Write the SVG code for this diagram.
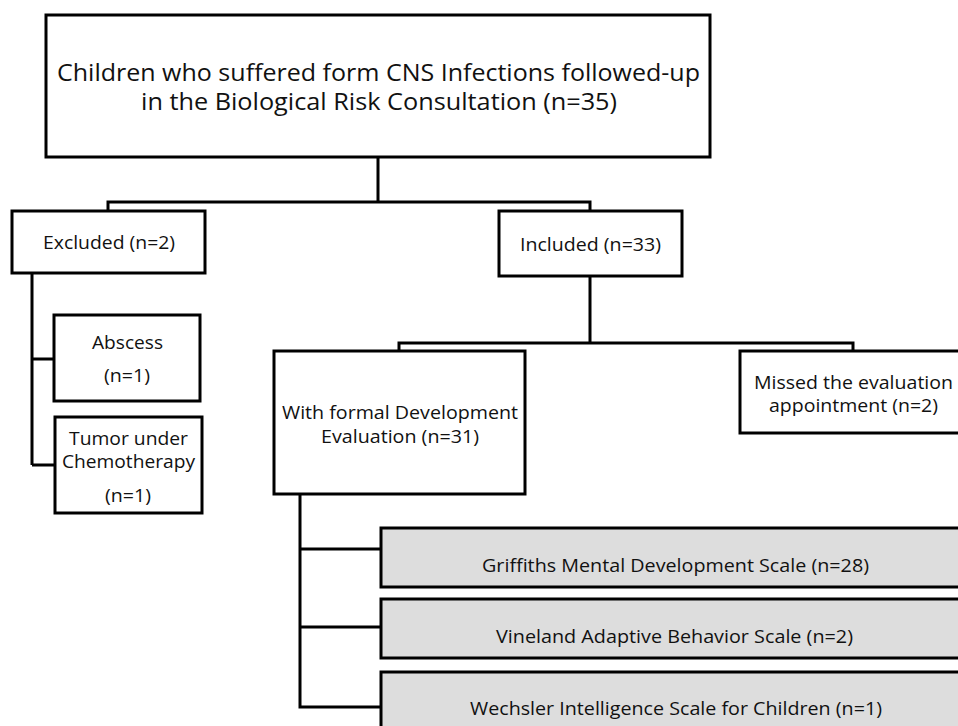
<svg xmlns="http://www.w3.org/2000/svg" width="958" height="726" viewBox="0 0 958 726">
<style>
.box{fill:#fff;stroke:#000;stroke-width:3}
.gray{fill:#dddddd;stroke:#000;stroke-width:3}
.conn{fill:none;stroke:#000;stroke-width:3}
text{font-family:"Open Sans","Noto Sans","Liberation Sans",sans-serif;fill:#111;text-anchor:middle}
.t{font-size:24px}
.s{font-size:19px}
</style>
<rect width="958" height="726" fill="#fff"/>
<g id="connectors">
<path class="conn" d="M378 157V202M108 211V202H590V211"/>
<path class="conn" d="M32 273V465M32 359H54M32 465H55"/>
<path class="conn" d="M590 276V343M399 351V343H853V351"/>
<path class="conn" d="M300 494V707H381M300 549H381M300 627H381"/>
</g>
<g id="root">
<rect class="box" x="46" y="15" width="664" height="142"/>
<text class="t" x="378.5" y="81" textLength="643" lengthAdjust="spacingAndGlyphs">Children who suffered form CNS Infections followed-up</text>
<text class="t" x="379" y="110" textLength="476" lengthAdjust="spacingAndGlyphs">in the Biological Risk Consultation (n=35)</text>
</g>
<g id="excluded">
<rect class="box" x="12" y="211" width="193" height="62"/>
<text class="s" x="109" y="249" textLength="132" lengthAdjust="spacingAndGlyphs">Excluded (n=2)</text>
</g>
<g id="included">
<rect class="box" x="499" y="211" width="183" height="65"/>
<text class="s" x="590.5" y="251" textLength="141" lengthAdjust="spacingAndGlyphs">Included (n=33)</text>
</g>
<g id="abscess">
<rect class="box" x="54" y="315" width="146" height="86"/>
<text class="s" x="127.5" y="349" textLength="71" lengthAdjust="spacingAndGlyphs">Abscess</text>
<text class="s" x="127" y="382" textLength="46" lengthAdjust="spacingAndGlyphs">(n=1)</text>
</g>
<g id="tumor">
<rect class="box" x="55" y="417" width="147" height="96"/>
<text class="s" x="128.5" y="445" textLength="119" lengthAdjust="spacingAndGlyphs">Tumor under</text>
<text class="s" x="128.5" y="468" textLength="133" lengthAdjust="spacingAndGlyphs">Chemotherapy</text>
<text class="s" x="128" y="502" textLength="46" lengthAdjust="spacingAndGlyphs">(n=1)</text>
</g>
<g id="formal">
<rect class="box" x="274" y="351" width="251" height="143"/>
<text class="s" x="400" y="419" textLength="236" lengthAdjust="spacingAndGlyphs">With formal Development</text>
<text class="s" x="400" y="443" textLength="158" lengthAdjust="spacingAndGlyphs">Evaluation (n=31)</text>
</g>
<g id="missed">
<rect class="box" x="740" y="351" width="226" height="82"/>
<text class="s" x="853.5" y="389" textLength="199" lengthAdjust="spacingAndGlyphs">Missed the evaluation</text>
<text class="s" x="853.5" y="412" textLength="169" lengthAdjust="spacingAndGlyphs">appointment (n=2)</text>
</g>
<g id="griffiths">
<rect class="gray" x="381" y="528" width="590" height="59"/>
<text class="s" x="675.5" y="572" textLength="387" lengthAdjust="spacingAndGlyphs">Griffiths Mental Development Scale (n=28)</text>
</g>
<g id="vineland">
<rect class="gray" x="381" y="599" width="590" height="59"/>
<text class="s" x="674.5" y="643" textLength="357" lengthAdjust="spacingAndGlyphs">Vineland Adaptive Behavior Scale (n=2)</text>
</g>
<g id="wechsler">
<rect class="gray" x="381" y="672" width="590" height="70"/>
<text class="s" x="676" y="715" textLength="412" lengthAdjust="spacingAndGlyphs">Wechsler Intelligence Scale for Children (n=1)</text>
</g>
</svg>
